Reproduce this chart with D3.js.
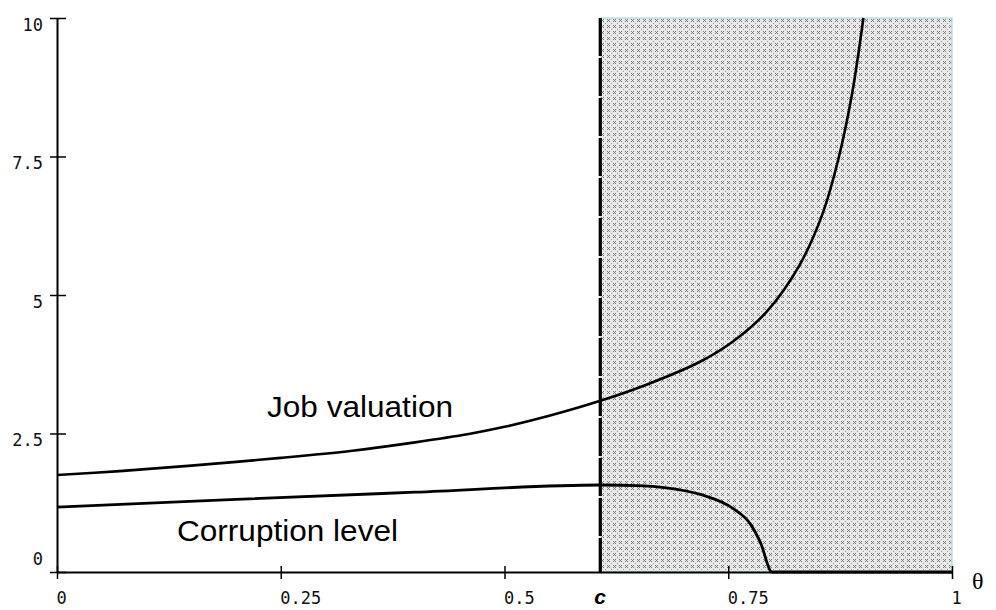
<!DOCTYPE html>
<html>
<head>
<meta charset="utf-8">
<script src="https://cdn.jsdelivr.net/npm/d3@7"></script>
<style>
  body { margin: 0; background: #fff; }
  svg { display: block; }
</style>
</head>
<body>
<svg id="chart" width="996" height="610"></svg>
<script>
// values
const xTicks = [0, 0.25, 0.5, 0.75, 1];
const xTickLabels = ["0", "0.25", "0.5", "0.75", "1"];
const yTicks = [0, 2.5, 5, 7.5, 10];
const yTickLabels = ["0", "2.5", "5", "7.5", "10"];

const cTheta = 0.607; // threshold c

const jobTheta = [0, 0.07, 0.15, 0.25, 0.33, 0.4, 0.46, 0.5, 0.55, 0.607, 0.66, 0.719, 0.756, 0.793, 0.83, 0.855, 0.873, 0.888, 0.901];
const jobValue = [1.75, 1.82, 1.92, 2.06, 2.19, 2.34, 2.49, 2.62, 2.82, 3.09, 3.39, 3.8, 4.17, 4.7, 5.55, 6.45, 7.45, 8.6, 10];

const corrTheta = [0, 0.2, 0.4, 0.607, 0.65, 0.681, 0.719, 0.756, 0.775, 0.786, 0.799, 1];
const corrValue = [1.17, 1.31, 1.44, 1.57, 1.56, 1.52, 1.4, 1.14, 0.86, 0.53, 0, 0];

const svg = d3.select("#chart");

const x = d3.scaleLinear().domain([0, 1]).range([57, 952]);
const y = d3.scaleLinear().domain([0, 10]).range([572, 18]);

// hatch pattern for the shaded zone
const defs = svg.append("defs");
const pat = defs.append("pattern")
  .attr("id", "dots")
  .attr("width", 6).attr("height", 6)
  .attr("patternUnits", "userSpaceOnUse");
pat.append("rect").attr("width", 6).attr("height", 6).attr("fill", "#e9e9e9");
[[1, 1], [3, 1], [2, 2], [1, 3], [3, 3]].forEach(p => {
  pat.append("rect").attr("x", p[0]).attr("y", p[1])
    .attr("width", 1).attr("height", 1).attr("fill", "#777");
});
pat.append("rect").attr("x", 5).attr("y", 5).attr("width", 1).attr("height", 1).attr("fill", "#999");

// shaded region c..1
svg.append("rect")
  .attr("x", x(cTheta)).attr("y", y(10))
  .attr("width", x(1) - x(cTheta)).attr("height", y(0) - y(10))
  .attr("fill", "url(#dots)")
  .attr("stroke", "#b9dfe6").attr("stroke-width", 1.5);

// x axis
const xAxis = svg.append("g")
  .attr("transform", `translate(0,${y(0)})`)
  .call(d3.axisBottom(x).tickValues(xTicks).tickSizeOuter(0)
    .tickFormat((d, i) => xTickLabels[i]));
xAxis.select(".domain").attr("stroke-width", 2);
xAxis.selectAll(".tick line").attr("y1", -6).attr("y2", 7).attr("stroke-width", 1.5);
xAxis.selectAll(".tick text")
  .attr("text-anchor", "start").attr("x", -1).attr("y", 20)
  .attr("font-family", "DejaVu Sans Mono").attr("font-size", 17)
  .attr("fill", "#111");

// y axis
const yAxis = svg.append("g")
  .attr("transform", `translate(${x(0)},0)`)
  .call(d3.axisLeft(y).tickValues(yTicks).tickSizeOuter(0)
    .tickFormat((d, i) => yTickLabels[i]));
yAxis.select(".domain").attr("stroke-width", 2);
yAxis.selectAll(".tick line").attr("x1", -7).attr("x2", 9).attr("stroke-width", 1.5);
yAxis.selectAll(".tick text")
  .attr("x", -14)
  .attr("dy", d => d === 0 ? "-0.45em" : "0.72em")
  .attr("font-family", "DejaVu Sans Mono").attr("font-size", 17)
  .attr("fill", "#111");

// dashed line at c
svg.append("line")
  .attr("x1", x(cTheta)).attr("x2", x(cTheta))
  .attr("y1", y(10)).attr("y2", y(0))
  .attr("stroke", "#000").attr("stroke-width", 3.2)
  .attr("stroke-dasharray", "38,2");

// curves
const jobLine = d3.line()
  .x(d => x(d[0])).y(d => y(d[1]))
  .curve(d3.curveCatmullRom.alpha(0.5));
const corrLine = d3.line()
  .x(d => x(d[0])).y(d => y(d[1]))
  .curve(d3.curveMonotoneX);

svg.append("path")
  .datum(d3.zip(jobTheta, jobValue))
  .attr("d", jobLine)
  .attr("fill", "none").attr("stroke", "#000").attr("stroke-width", 2.6);

svg.append("path")
  .datum(d3.zip(corrTheta, corrValue))
  .attr("d", corrLine)
  .attr("fill", "none").attr("stroke", "#000").attr("stroke-width", 2.8);

// labels
svg.append("text")
  .attr("x", 267).attr("y", 417)
  .attr("font-family", "Liberation Sans").attr("font-size", 30)
  .attr("textLength", 186).attr("lengthAdjust", "spacingAndGlyphs")
  .text("Job valuation");

svg.append("text")
  .attr("x", 177).attr("y", 541)
  .attr("font-family", "Liberation Sans").attr("font-size", 30)
  .attr("textLength", 221).attr("lengthAdjust", "spacingAndGlyphs")
  .text("Corruption level");

svg.append("text")
  .attr("x", x(cTheta) - 6).attr("y", 604)
  .attr("font-family", "Liberation Sans").attr("font-size", 21)
  .attr("font-weight", "bold").attr("font-style", "italic")
  .text("c");

svg.append("text")
  .attr("x", 972).attr("y", 589)
  .attr("font-family", "Liberation Serif").attr("font-size", 24)
  .text("θ");
</script>
</body>
</html>
